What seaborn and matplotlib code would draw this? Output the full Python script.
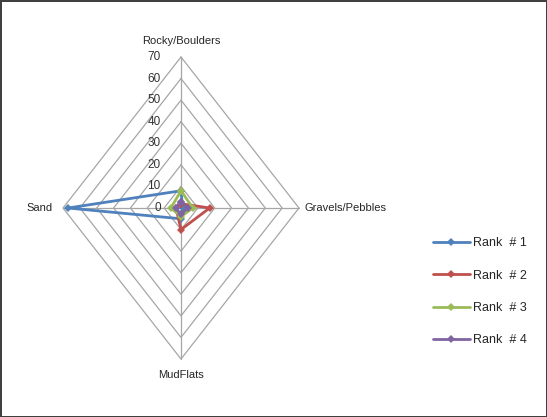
import numpy as np
import pandas as pd
import seaborn as sns
import matplotlib.pyplot as plt

categories = ["Rocky/Boulders", "Gravels/Pebbles", "MudFlats", "Sand"]
ranks = ["Rank  # 1", "Rank  # 2", "Rank  # 3", "Rank  # 4"]
rank1 = [8, 1, 5, 67]
rank2 = [2, 17, 10, 3]
rank3 = [8, 7, 4, 6]
rank4 = [3, 4, 3, 3]
ticks = [0, 10, 20, 30, 40, 50, 60, 70]
colors = ["#4F81BD", "#C0504D", "#9BBB59", "#8064A2"]

# clockwise from top, like excel radar
angles = np.deg2rad([90, 0, 270, 180])

rows = []
for name, vals in zip(ranks, [rank1, rank2, rank3, rank4]):
    for i in range(len(categories) + 1):
        k = i % len(categories)
        rows.append({"Rank": name, "order": i,
                     "x": vals[k] * np.cos(angles[k]),
                     "y": vals[k] * np.sin(angles[k])})
df = pd.DataFrame(rows)

sns.set_style("white")
plt.rcParams["font.family"] = ["Liberation Sans", "DejaVu Sans"]

W, H = 547, 417
fig = plt.figure(figsize=(W / 100, H / 100), dpi=100)
# centre at (181, 208) px, 70 units = 118 px wide, 151 px tall
cx, cy = 181, 208
sx, sy = 118 / 70, 151 / 70
lim = 80
ax = fig.add_axes([(cx - lim * sx) / W, (H - cy - lim * sy) / H,
                   2 * lim * sx / W, 2 * lim * sy / H])
ax.set_xlim(-lim, lim)
ax.set_ylim(-lim, lim)
ax.axis("off")

# grid diamonds and spokes
for t in ticks[1:]:
    gx = [t * np.cos(a) for a in angles] + [t * np.cos(angles[0])]
    gy = [t * np.sin(a) for a in angles] + [t * np.sin(angles[0])]
    ax.plot(gx, gy, color="#A6A6A6", lw=0.9, zorder=1)
for a in angles:
    ax.plot([0, 70 * np.cos(a)], [0, 70 * np.sin(a)], color="#A6A6A6", lw=0.9, zorder=1)

for t in ticks:
    ax.text(-12, t, str(t), ha="right", va="center", fontsize=8.5, color="#333333")

ax.text(0, 75, categories[0], ha="center", va="bottom", fontsize=8)
ax.text(73, 0, categories[1], ha="left", va="center", fontsize=8)
ax.text(0, -75, categories[2], ha="center", va="top", fontsize=8)
ax.text(-76, 0, categories[3], ha="right", va="center", fontsize=8)

sns.lineplot(data=df, x="x", y="y", hue="Rank", units="Rank", estimator=None,
             sort=False, palette=colors, marker="D", markersize=4,
             markeredgewidth=0, linewidth=2, ax=ax, zorder=3)

handles, labels = ax.get_legend_handles_labels()
ax.legend(handles, labels, loc="upper left", bbox_to_anchor=(422 / W, 1 - 226 / H),
          bbox_transform=fig.transFigure, frameon=False, fontsize=9,
          handlelength=2.9, handletextpad=0.3, labelspacing=1.63)

fig.patch.set_edgecolor("#404040")
fig.patch.set_linewidth(2)
fig.savefig("out.png", dpi=100)
